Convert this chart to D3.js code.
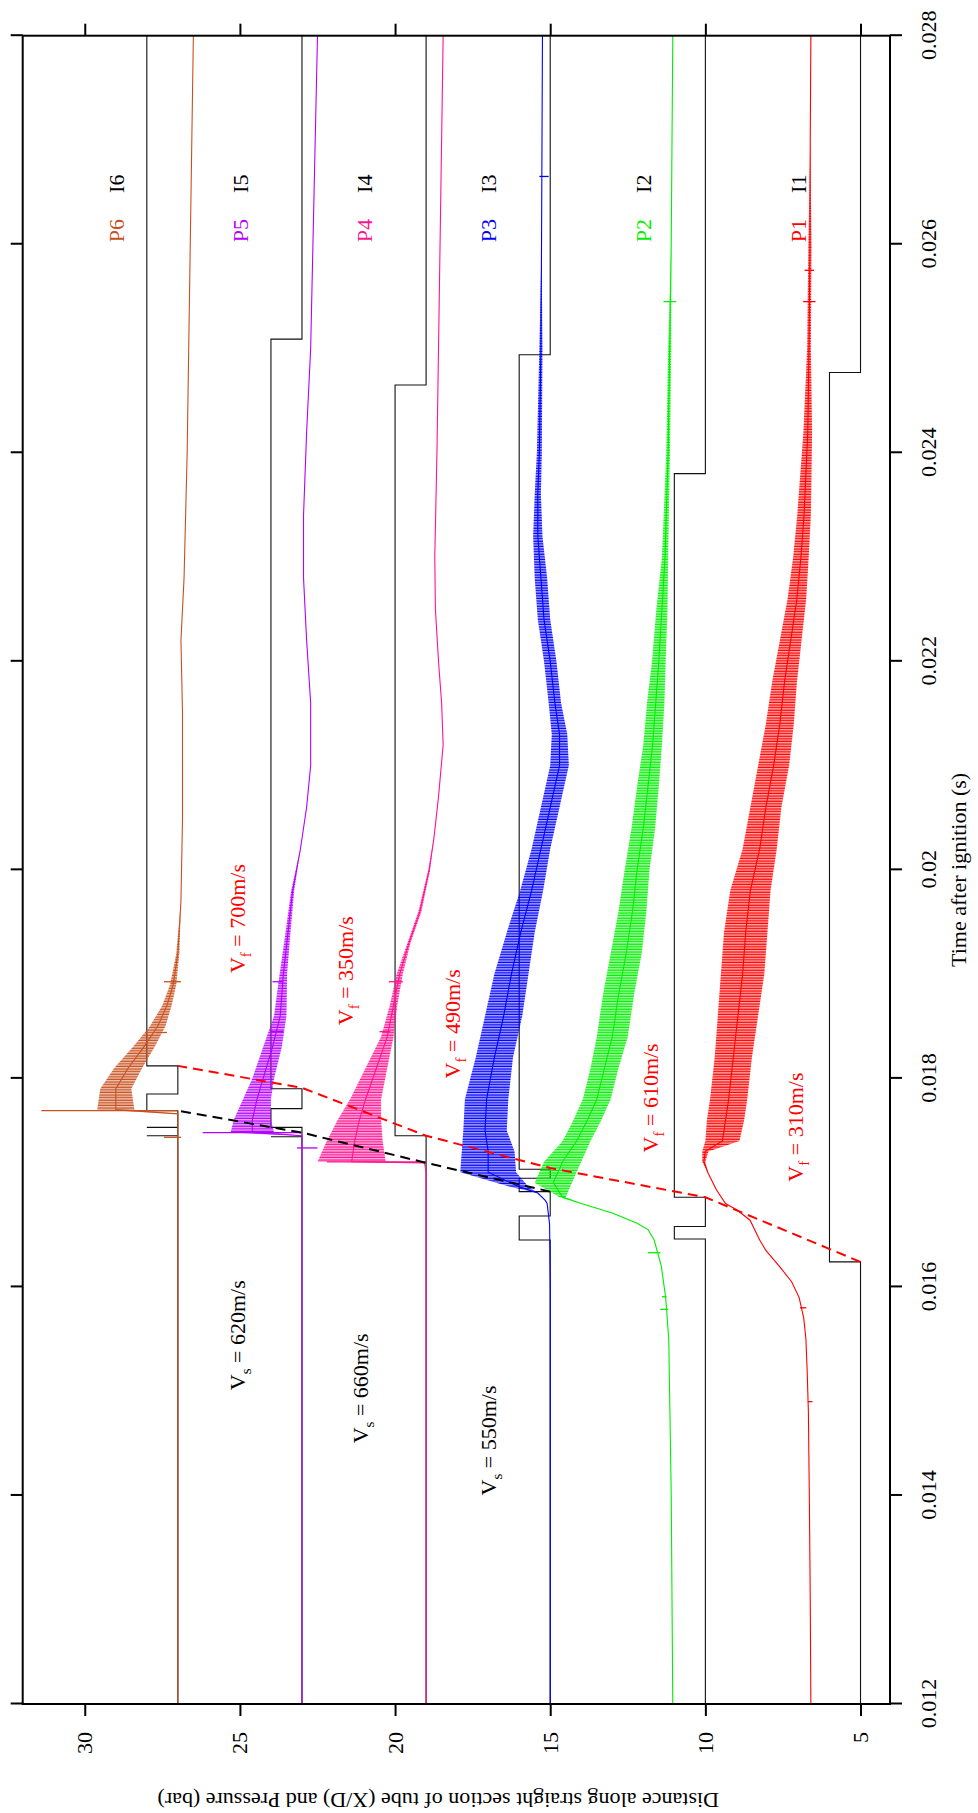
<!DOCTYPE html>
<html>
<head>
<meta charset="utf-8">
<script src="https://cdn.jsdelivr.net/npm/d3@7"></script>
<style>
  html, body { margin: 0; padding: 0; background: #fff; }
  svg { display: block; font-family: "Liberation Serif", "Times New Roman", serif; }
</style>
</head>
<body>
<svg id="chart" width="978" height="1813"></svg>
<script>
// ---- axis ticks ----
const timeTicks = [0.012, 0.014, 0.016, 0.018, 0.02, 0.022, 0.024, 0.026, 0.028];
const timeTickLabels = ["0.012", "0.014", "0.016", "0.018", "0.02", "0.022", "0.024", "0.026", "0.028"];
const valueTicks = [5, 10, 15, 20, 25, 30];

// ---- pressure traces: [time (s), pressure (bar), noise half-width (bar)] ----
const p1 = [
  [0.0120, 6.60, 0], [0.0130, 6.62, 0], [0.0140, 6.65, 0], [0.0148, 6.68, 0], [0.0152, 6.72, 0],
  [0.0155, 6.76, 0], [0.0157, 6.83, 0], [0.0159, 6.98, 0], [0.01605, 7.22, 0], [0.0162, 7.62, 0],
  [0.01635, 8.05, 0], [0.01645, 8.25, 0], [0.01664, 8.56, 0], [0.01674, 8.99, 0], [0.0168, 9.35, 0],
  [0.01693, 9.64, 0], [0.01709, 9.91, 0], [0.0172, 10.05, 0.05], [0.0173, 10.0, 0.1],
  [0.0174, 9.45, 0.55], [0.0176, 9.35, 0.6], [0.0178, 9.25, 0.6], [0.0182, 9.1, 0.6], [0.0186, 8.95, 0.65],
  [0.0190, 8.8, 0.7], [0.0194, 8.7, 0.7], [0.0198, 8.55, 0.65], [0.0202, 8.25, 0.55], [0.0206, 8.05, 0.5],
  [0.0210, 7.8, 0.5], [0.0214, 7.6, 0.45], [0.0218, 7.45, 0.4], [0.0222, 7.25, 0.35], [0.0226, 7.05, 0.3],
  [0.0230, 6.92, 0.25], [0.0234, 6.82, 0.22], [0.0238, 6.76, 0.18], [0.0242, 6.7, 0.14], [0.0246, 6.68, 0.1],
  [0.0250, 6.66, 0.06], [0.0260, 6.63, 0.05], [0.0270, 6.62, 0], [0.0280, 6.60, 0]
];
const p2 = [
  [0.0120, 11.05, 0], [0.0140, 11.1, 0], [0.0155, 11.18, 0], [0.0159, 11.28, 0], [0.0162, 11.42, 0],
  [0.01645, 11.65, 0], [0.01655, 11.85, 0], [0.01661, 12.2, 0], [0.01671, 13.0, 0], [0.0168, 14.0, 0],
  [0.01686, 14.6, 0.1], [0.0170, 14.9, 0.6], [0.0172, 14.6, 0.6], [0.0174, 14.15, 0.45], [0.0176, 13.8, 0.45],
  [0.0178, 13.5, 0.45], [0.0181, 13.25, 0.45], [0.0184, 13.0, 0.5], [0.0188, 12.8, 0.5], [0.0192, 12.55, 0.5],
  [0.0196, 12.35, 0.45], [0.0200, 12.2, 0.4], [0.0204, 12.0, 0.38], [0.0208, 11.85, 0.35], [0.0212, 11.7, 0.3],
  [0.0216, 11.6, 0.28], [0.0220, 11.5, 0.22], [0.0225, 11.4, 0.18], [0.0230, 11.3, 0.1], [0.0240, 11.2, 0.06],
  [0.0250, 11.15, 0.05], [0.0260, 11.1, 0], [0.0280, 11.05, 0]
];
const p3 = [
  [0.0120, 15.0, 0], [0.0160, 15.0, 0], [0.0166, 15.02, 0], [0.0168, 15.1, 0], [0.01683, 15.16, 0],
  [0.0169, 15.4, 0], [0.01696, 16.0, 0.3], [0.0171, 17.0, 0.9], [0.0173, 17.0, 0.85], [0.0175, 17.1, 0.7],
  [0.0178, 17.05, 0.7], [0.0182, 16.8, 0.6], [0.0186, 16.5, 0.6], [0.0190, 16.25, 0.55], [0.0194, 15.95, 0.45],
  [0.0198, 15.6, 0.37], [0.0202, 15.3, 0.3], [0.0206, 15.0, 0.3], [0.0210, 14.7, 0.3], [0.0213, 14.7, 0.25],
  [0.0216, 14.85, 0.2], [0.0220, 15.0, 0.2], [0.0224, 15.2, 0.2], [0.0228, 15.3, 0.2], [0.0232, 15.4, 0.15],
  [0.0236, 15.4, 0.1], [0.0240, 15.35, 0.08], [0.0250, 15.3, 0.05], [0.0260, 15.28, 0], [0.0280, 15.25, 0]
];
const p4 = [
  [0.0120, 19.0, 0], [0.0171, 19.0, 0], [0.01719, 19.05, 0], [0.0172, 21.4, 1.1], [0.0174, 21.3, 0.9],
  [0.0176, 21.15, 0.7], [0.0178, 20.95, 0.5], [0.0181, 20.6, 0.35], [0.0184, 20.25, 0.2], [0.0187, 20.05, 0.12],
  [0.0190, 19.85, 0.1], [0.0193, 19.55, 0.05], [0.0196, 19.2, 0.05], [0.0200, 18.9, 0.03], [0.0203, 18.75, 0],
  [0.0207, 18.6, 0], [0.0212, 18.45, 0], [0.0216, 18.5, 0], [0.0220, 18.6, 0], [0.0225, 18.7, 0],
  [0.0230, 18.72, 0], [0.0240, 18.65, 0], [0.0250, 18.6, 0], [0.0280, 18.45, 0]
];
const p5 = [
  [0.0120, 23.0, 0], [0.01745, 23.0, 0], [0.01748, 24.6, 0.7], [0.0176, 24.6, 0.6], [0.0178, 24.45, 0.45],
  [0.0180, 24.25, 0.35], [0.0183, 23.95, 0.3], [0.0186, 23.7, 0.2], [0.0190, 23.6, 0.12], [0.0194, 23.45, 0.08],
  [0.0198, 23.3, 0.05], [0.0202, 23.05, 0], [0.0206, 22.85, 0], [0.0210, 22.72, 0], [0.0216, 22.72, 0],
  [0.0222, 22.85, 0], [0.0228, 22.95, 0], [0.0234, 22.95, 0], [0.0242, 22.85, 0], [0.0250, 22.72, 0],
  [0.0280, 22.5, 0]
];
const p6 = [
  [0.0120, 27.0, 0], [0.01766, 27.0, 0], [0.0177, 29.0, 0.6], [0.0179, 29.0, 0.5], [0.0181, 28.6, 0.45],
  [0.0183, 28.1, 0.35], [0.0185, 27.65, 0.25], [0.0187, 27.35, 0.15], [0.0189, 27.15, 0.1], [0.0192, 27.0, 0.05],
  [0.0197, 26.9, 0], [0.0205, 26.85, 0], [0.0215, 26.85, 0], [0.0222, 26.9, 0], [0.0228, 26.8, 0],
  [0.0240, 26.7, 0], [0.0280, 26.5, 0]
];

// single-sample spikes on each trace: [time, from, to]
const p1Spikes = [[0.0149, 6.70, 6.55], [0.0158, 6.95, 6.75], [0.02545, 6.85, 6.45], [0.02575, 6.80, 6.50]];
const p2Spikes = [[0.015785, 11.2, 11.45], [0.015906, 11.25, 11.4], [0.016328, 11.45, 11.85], [0.02545, 11.35, 10.95]];
const p3Spikes = [[0.02665, 15.35, 15.05]];
const p4Spikes = [[0.01720, 19.0, 22.2], [0.018448, 20.5, 20.15], [0.018927, 20.2, 19.75]];
const p5Spikes = [[0.01748, 23.0, 26.2], [0.017333, 23.16, 22.5], [0.018448, 24.0, 23.6], [0.018927, 23.95, 23.6]];
const p6Spikes = [[0.01769, 27.0, 31.4], [0.017435, 27.45, 26.9], [0.01844, 27.7, 27.35], [0.018927, 27.45, 26.9]];

// ---- ion probe signals: [time (s), level from that time on] ----
const i1 = [[0.012, 5], [0.01624, 6], [0.02477, 5], [0.028, 5]];
const i2 = [[0.012, 10], [0.01646, 11], [0.01658, 10], [0.01686, 11], [0.0238, 10], [0.028, 10]];
const i3 = [[0.012, 15], [0.01645, 16], [0.01668, 15], [0.016914, 16], [0.017042, 15], [0.017128, 16], [0.02494, 15], [0.028, 15]];
const i4 = [[0.012, 19], [0.01745, 20], [0.02465, 19], [0.028, 19]];
const i5 = [[0.012, 23], [0.01744, 24], [0.01744, 23], [0.01753, 24], [0.01771, 23], [0.0179, 24], [0.02509, 23], [0.028, 23]];
const i6 = [[0.012, 27], [0.01745, 28], [0.01745, 27], [0.01753, 28], [0.01753, 27], [0.01769, 28], [0.01785, 27], [0.01812, 28], [0.028, 28]];

// ---- fronts: flame (ion probes) and shock (pressure jumps) ----
const flameFront = [[0.01624, 5], [0.01686, 10], [0.01714, 15], [0.01745, 19], [0.01791, 23], [0.01812, 27]];
const shockFront = [[0.016914, 15], [0.01719, 19], [0.01748, 23], [0.01769, 27]];

// ---- annotations: [symbol, subscript, rest, time, baseline value, colour] ----
const speedNotes = [
  ["V", "f", " = 700m/s", 0.01901, 24.82, "#ff0000"],
  ["V", "f", " = 350m/s", 0.01851, 21.35, "#ff0000"],
  ["V", "f", " = 490m/s", 0.01800, 17.90, "#ff0000"],
  ["V", "f", " = 610m/s", 0.01729, 11.53, "#ff0000"],
  ["V", "f", " = 310m/s", 0.01701, 6.86, "#ff0000"],
  ["V", "s", " = 620m/s", 0.01501, 24.82, "#000000"],
  ["V", "s", " = 660m/s", 0.01450, 20.86, "#000000"],
  ["V", "s", " = 550m/s", 0.01400, 16.74, "#000000"]
];

// ---- trace names and probe labels ----
const traceNames = ["P1", "P2", "P3", "P4", "P5", "P6"];
const probeNames = ["I1", "I2", "I3", "I4", "I5", "I6"];
const labelLevels = [6, 11, 16, 20, 24, 28];
const traceColors = ["#ff0000", "#00ee00", "#0000ff", "#ff1493", "#b400ff", "#c8501e"];

// ---------------------------------------------------------------------------
const W = 1668.3, H = 867.3;   // plot size in the unrotated frame
const svg = d3.select("#chart");
// the whole plot is drawn landscape and turned a quarter turn counter-clockwise
const g = svg.append("g").attr("transform", "translate(22.7,1704) rotate(-90)");

const x = d3.scaleLinear().domain([0.012, 0.028]).range([0, W]);
const y = d3.scaleLinear().domain([4.05, 32]).range([H, 0]);

const fontSize = 22;

// hatch fill used for the noisy parts of the traces (strokes across the pressure axis)
const defs = svg.append("defs");
traceColors.forEach((c, k) => {
  const pat = defs.append("pattern").attr("id", "noise" + k)
    .attr("patternUnits", "userSpaceOnUse").attr("width", 2.6).attr("height", 8);
  pat.append("rect").attr("width", 2.6).attr("height", 8).attr("fill", c).attr("fill-opacity", 0.35);
  pat.append("rect").attr("width", 1.2).attr("height", 8).attr("fill", c);
});

// ion probe steps
const stepLine = d3.line().x(d => x(d[0])).y(d => y(d[1])).curve(d3.curveStepAfter);
[i1, i2, i3, i4, i5, i6].forEach(s => {
  g.append("path").attr("d", stepLine(s)).attr("fill", "none")
    .attr("stroke", "#111").attr("stroke-width", 1.1);
});

// pressure traces: noise band + centre line + spikes
const band = d3.area().x(d => x(d[0])).y0(d => y(d[1] - d[2])).y1(d => y(d[1] + d[2]));
const mid = d3.line().x(d => x(d[0])).y(d => y(d[1]));
const traces = [p1, p2, p3, p4, p5, p6];
const spikes = [p1Spikes, p2Spikes, p3Spikes, p4Spikes, p5Spikes, p6Spikes];
traces.forEach((s, k) => {
  g.append("path").attr("d", band(s)).attr("fill", `url(#noise${k})`).attr("stroke", "none");
  g.append("path").attr("d", mid(s)).attr("fill", "none").attr("stroke", traceColors[k]).attr("stroke-width", 1.1);
  g.selectAll(null).data(spikes[k]).enter().append("line")
    .attr("x1", d => x(d[0])).attr("x2", d => x(d[0]))
    .attr("y1", d => y(d[1])).attr("y2", d => y(d[2]))
    .attr("stroke", traceColors[k]).attr("stroke-width", 1.3);
});

// fronts
const frontLine = d3.line().x(d => x(d[0])).y(d => y(d[1]));
g.append("path").attr("d", frontLine(flameFront)).attr("fill", "none")
  .attr("stroke", "#ff0000").attr("stroke-width", 2).attr("stroke-dasharray", "10,6");
g.append("path").attr("d", frontLine(shockFront)).attr("fill", "none")
  .attr("stroke", "#000").attr("stroke-width", 2).attr("stroke-dasharray", "10,6");

// speed annotations
speedNotes.forEach(n => {
  const t = g.append("text").attr("x", x(n[3])).attr("y", y(n[4]))
    .attr("fill", n[5]).attr("font-size", fontSize);
  t.append("tspan").text(n[0]);
  t.append("tspan").attr("font-size", 15).attr("dy", 6).text(n[1]);
  t.append("tspan").attr("dy", -6).text(n[2]);
});

// P and I labels
traceNames.forEach((nm, k) => {
  g.append("text").attr("x", x(0.02613)).attr("y", y(labelLevels[k] + 0.75))
    .attr("text-anchor", "middle").attr("font-size", fontSize).attr("fill", traceColors[k]).text(nm);
  g.append("text").attr("x", x(0.02658)).attr("y", y(labelLevels[k] + 0.75))
    .attr("text-anchor", "middle").attr("font-size", fontSize).attr("fill", "#000").text(probeNames[k]);
});

// frame
g.append("rect").attr("x", 0).attr("y", 0).attr("width", W).attr("height", H)
  .attr("fill", "none").attr("stroke", "#000").attr("stroke-width", 2);

// axes (ticks outward on all four sides)
const tickLen = 12;
const axB = d3.axisBottom(x).tickValues(timeTicks).tickSize(tickLen).tickPadding(18)
  .tickFormat((d, i) => timeTickLabels[i]);
const axT = d3.axisTop(x).tickValues(timeTicks).tickSize(tickLen).tickFormat("");
const axL = d3.axisLeft(y).tickValues(valueTicks).tickSize(tickLen).tickPadding(16).tickFormat(d3.format("d"));
const axR = d3.axisRight(y).tickValues(valueTicks).tickSize(tickLen).tickFormat("");
function styleAxis(sel) {
  sel.select(".domain").remove();
  sel.selectAll(".tick line").attr("stroke", "#000").attr("stroke-width", 2);
  sel.selectAll(".tick text").attr("font-size", fontSize).attr("fill", "#000")
    .attr("font-family", "Liberation Serif, Times New Roman, serif");
}
g.append("g").attr("transform", `translate(0,${H})`).call(axB).call(styleAxis);
g.append("g").call(axT).call(styleAxis);
g.append("g").call(axL).call(styleAxis);
g.append("g").attr("transform", `translate(${W},0)`).call(axR).call(styleAxis);

// axis titles
g.append("text").attr("x", W / 2).attr("y", H + 76).attr("text-anchor", "middle")
  .attr("font-size", fontSize).text("Time after ignition (s)");
g.append("text").attr("transform", `translate(-88.5,415.5) rotate(-90)`).attr("text-anchor", "middle")
  .attr("font-size", fontSize).text("Distance along straight section of tube (X/D) and Pressure (bar)");
</script>
</body>
</html>
